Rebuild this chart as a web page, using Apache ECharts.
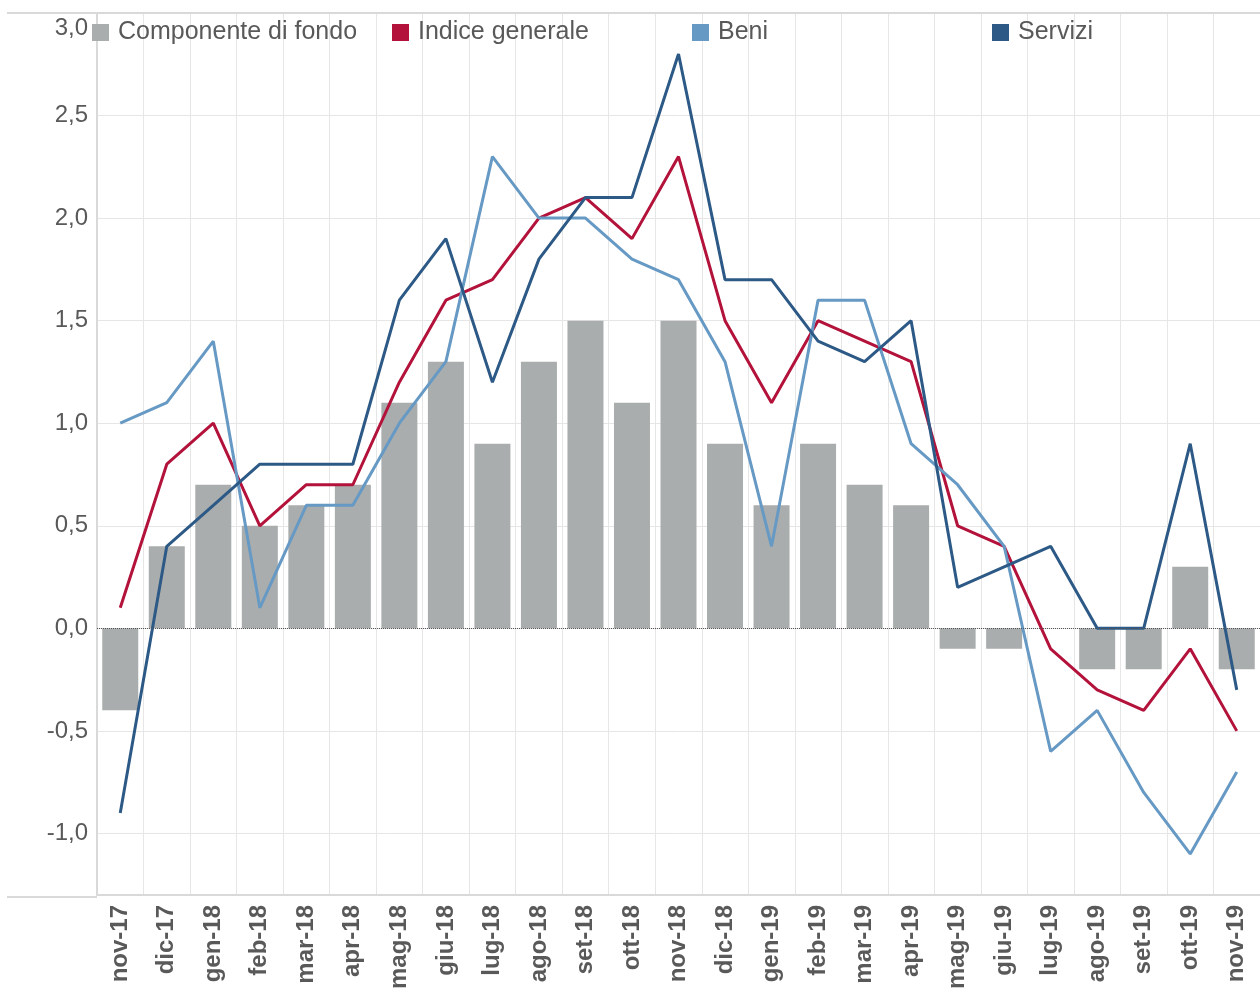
<!DOCTYPE html>
<html>
<head>
<meta charset="utf-8">
<script src="https://cdn.jsdelivr.net/npm/echarts@6/dist/echarts.min.js"></script>
<style>
  html, body { margin: 0; padding: 0; background: #fff; }
  #chart { width: 1260px; height: 992px; }
</style>
</head>
<body>
<div id="chart"></div>
<script>
// Months on the x axis
const months = ['nov-17', 'dic-17', 'gen-18', 'feb-18', 'mar-18', 'apr-18', 'mag-18', 'giu-18',
  'lug-18', 'ago-18', 'set-18', 'ott-18', 'nov-18', 'dic-18', 'gen-19', 'feb-19', 'mar-19',
  'apr-19', 'mag-19', 'giu-19', 'lug-19', 'ago-19', 'set-19', 'ott-19', 'nov-19'];

// Series values
const componenteFondo = [-0.4, 0.4, 0.7, 0.5, 0.6, 0.7, 1.1, 1.3, 0.9, 1.3, 1.5, 1.1, 1.5,
  0.9, 0.6, 0.9, 0.7, 0.6, -0.1, -0.1, 0.0, -0.2, -0.2, 0.3, -0.2];
const indiceGenerale = [0.1, 0.8, 1.0, 0.5, 0.7, 0.7, 1.2, 1.6, 1.7, 2.0, 2.1, 1.9, 2.3,
  1.5, 1.1, 1.5, 1.4, 1.3, 0.5, 0.4, -0.1, -0.3, -0.4, -0.1, -0.5];
const beni = [1.0, 1.1, 1.4, 0.1, 0.6, 0.6, 1.0, 1.3, 2.3, 2.0, 2.0, 1.8, 1.7,
  1.3, 0.4, 1.6, 1.6, 0.9, 0.7, 0.4, -0.6, -0.4, -0.8, -1.1, -0.7];
const servizi = [-0.9, 0.4, 0.6, 0.8, 0.8, 0.8, 1.6, 1.9, 1.2, 1.8, 2.1, 2.1, 2.8,
  1.7, 1.7, 1.4, 1.3, 1.5, 0.2, 0.3, 0.4, 0.0, 0.0, 0.9, -0.3];

// Legend labels
const legendNames = ['Componente di fondo', 'Indice generale', 'Beni', 'Servizi'];

const colors = {
  fondo: '#aaadad',
  indice: '#b3123b',
  beni: '#6699c4',
  servizi: '#2c5985'
};

const textColor = '#595959';
const fontFamily = '"Liberation Sans", Arial, sans-serif';
const yMax = 3.0;

const chart = echarts.init(document.getElementById('chart'));

function legendAt(name, left) {
  return {
    data: [name],
    left: left,
    top: 20,
    padding: 0,
    icon: 'rect',
    itemWidth: 17,
    itemHeight: 17,
    itemGap: 6,
    selectedMode: false,
    textStyle: { color: textColor, fontSize: 25, fontFamily: fontFamily, padding: [0, 0, 0, 4] }
  };
}

const option = {
  animation: false,
  backgroundColor: '#fff',
  textStyle: { fontFamily: fontFamily },
  legend: [
    legendAt(legendNames[0], 92),
    legendAt(legendNames[1], 392),
    legendAt(legendNames[2], 692),
    legendAt(legendNames[3], 992)
  ],
  grid: { left: 97, right: 0, top: 13, bottom: 95 },
  xAxis: {
    type: 'category',
    data: months,
    boundaryGap: true,
    axisLine: { onZero: false, lineStyle: { color: '#d9d9d9', width: 2 } },
    axisTick: { show: false },
    splitLine: { show: true, interval: 0, lineStyle: { color: '#e6e6e6', width: 1 } },
    axisLabel: {
      interval: 0,
      rotate: 90,
      margin: 10,
      color: textColor,
      fontSize: 24,
      fontWeight: 'bold',
      fontFamily: fontFamily
    }
  },
  yAxis: {
    type: 'value',
    min: -1.3,
    max: yMax,
    splitNumber: 9,
    axisLine: { show: true, lineStyle: { color: '#d9d9d9', width: 2 } },
    axisTick: { show: false },
    splitLine: { show: true, lineStyle: { color: '#e6e6e6', width: 1 } },
    axisLabel: {
      margin: 9,
      color: textColor,
      fontSize: 24,
      fontFamily: fontFamily,
      showMinLabel: false,
      formatter: function (v) {
        if (Math.abs(v * 2 - Math.round(v * 2)) > 1e-6) return '';
        const s = v.toFixed(1).replace('.', ',');
        // top label sits just below the frame line
        return Math.abs(v - yMax) < 1e-6 ? '{top|' + s + '}' : s;
      },
      rich: {
        top: { fontSize: 24, color: textColor, fontFamily: fontFamily, padding: [30, 0, 0, 0] }
      }
    }
  },
  graphic: [
    { type: 'line', shape: { x1: 7, y1: 13, x2: 1260, y2: 13 }, style: { stroke: '#d9d9d9', lineWidth: 2 }, z: 10 },
    { type: 'line', shape: { x1: 7, y1: 897, x2: 97, y2: 897 }, style: { stroke: '#d9d9d9', lineWidth: 2 }, z: 10 }
  ],
  series: [
    {
      name: legendNames[0],
      type: 'bar',
      data: componenteFondo,
      barWidth: 36,
      itemStyle: { color: colors.fondo },
      markLine: {
        silent: true,
        symbol: 'none',
        label: { show: false },
        lineStyle: { color: '#555', type: 'dotted', width: 1 },
        data: [{ yAxis: 0 }]
      }
    },
    {
      name: legendNames[1],
      type: 'line',
      data: indiceGenerale,
      symbol: 'none',
      lineStyle: { color: colors.indice, width: 3 },
      itemStyle: { color: colors.indice }
    },
    {
      name: legendNames[2],
      type: 'line',
      data: beni,
      symbol: 'none',
      lineStyle: { color: colors.beni, width: 3 },
      itemStyle: { color: colors.beni }
    },
    {
      name: legendNames[3],
      type: 'line',
      data: servizi,
      symbol: 'none',
      lineStyle: { color: colors.servizi, width: 3 },
      itemStyle: { color: colors.servizi }
    }
  ]
};

chart.setOption(option);
</script>
</body>
</html>
